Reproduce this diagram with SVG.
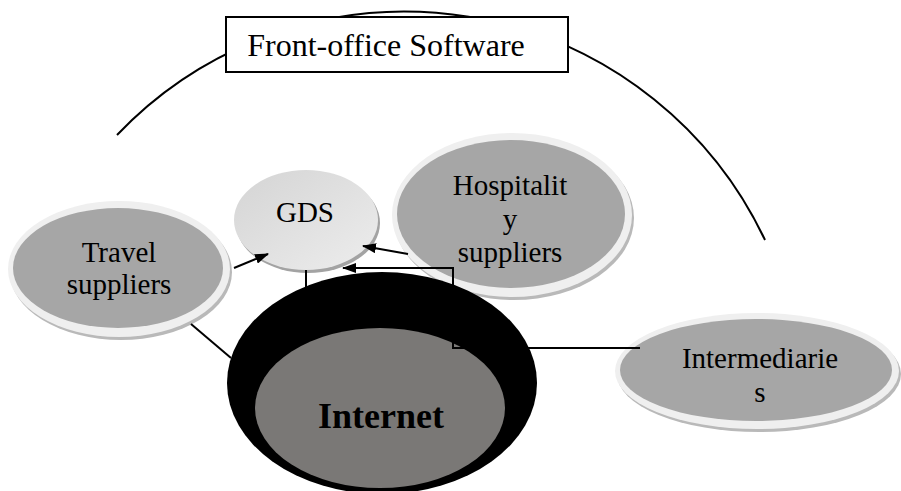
<svg xmlns="http://www.w3.org/2000/svg" width="901" height="491" viewBox="0 0 901 491">
  <style>
    .lbl { font-family: "Liberation Serif", "Times New Roman", serif; font-size: 29px; fill: #000; text-anchor: middle; }
    .title { font-family: "Liberation Serif", "Times New Roman", serif; font-size: 32px; fill: #000; text-anchor: middle; }
    .big { font-family: "Liberation Serif", "Times New Roman", serif; font-size: 36px; font-weight: bold; fill: #000; text-anchor: middle; }
    .rim { fill: #efefef; }
    .shadow { fill: #b9b9b9; }
    .fill { fill: #a6a6a6; }
    .conn { stroke: #000; stroke-width: 2; fill: none; }
  </style>
  <defs>
    <marker id="arrow" viewBox="0 0 14 10" refX="13" refY="5" markerWidth="14" markerHeight="10" markerUnits="userSpaceOnUse" orient="auto">
      <path d="M0,0 L14,5 L0,10 Z" fill="#000"/>
    </marker>
    <linearGradient id="gdsGrad" x1="0" y1="0" x2="1" y2="1">
      <stop offset="0" stop-color="#d4d4d4"/>
      <stop offset="1" stop-color="#ededed"/>
    </linearGradient>
  </defs>
  <rect width="901" height="491" fill="#ffffff"/>

  <g id="front-office">
    <path d="M117,135 A398,398 0 0 1 765,240" stroke="#000" stroke-width="2" fill="none"/>
    <rect x="226" y="17" width="342" height="55" fill="#ffffff" stroke="#000" stroke-width="2"/>
    <text class="title" x="386" y="56">Front-office Software</text>
  </g>

  <g id="travel-suppliers">
    <ellipse class="shadow" cx="121" cy="272" rx="111" ry="68"/>
    <ellipse class="rim" cx="119" cy="269" rx="111" ry="68"/>
    <ellipse class="fill" cx="118" cy="268" rx="105" ry="60"/>
    <text class="lbl" x="119" y="262">Travel</text>
    <text class="lbl" x="119" y="294">suppliers</text>
  </g>

  <g id="gds">
    <ellipse cx="308" cy="223" rx="72" ry="50" fill="#a3a3a3"/>
    <ellipse cx="306" cy="220" rx="72" ry="50" fill="url(#gdsGrad)"/>
    <text class="lbl" x="305" y="222">GDS</text>
  </g>

  <g id="hospitality-suppliers">
    <ellipse class="shadow" cx="514" cy="218" rx="120" ry="82"/>
    <ellipse class="rim" cx="512" cy="215" rx="120" ry="82"/>
    <ellipse class="fill" cx="511" cy="214" rx="114" ry="74"/>
    <text class="lbl" x="510" y="195">Hospitalit</text>
    <text class="lbl" x="510" y="229">y</text>
    <text class="lbl" x="510" y="262">suppliers</text>
  </g>

  <g id="intermediaries">
    <ellipse class="shadow" cx="759" cy="374" rx="142" ry="58"/>
    <ellipse class="rim" cx="757" cy="371" rx="142" ry="58"/>
    <ellipse class="fill" cx="756" cy="370" rx="136" ry="51"/>
    <text class="lbl" x="760" y="368">Intermediarie</text>
    <text class="lbl" x="760" y="402">s</text>
  </g>

  <g id="internet">
    <ellipse cx="382" cy="383" rx="155" ry="111" fill="#000"/>
    <ellipse cx="380" cy="408" rx="125" ry="80" fill="#7a7876"/>
    <text class="big" x="381" y="428">Internet</text>
  </g>

  <g id="connectors">
    <line class="conn" x1="234" y1="268" x2="268" y2="254" marker-end="url(#arrow)"/>
    <line class="conn" x1="408" y1="254" x2="363" y2="246" marker-end="url(#arrow)"/>
    <polyline class="conn" points="640,348 453,348 453,268 343,268" marker-end="url(#arrow)"/>
    <line class="conn" x1="306" y1="270" x2="306" y2="292"/>
    <line class="conn" x1="191" y1="324" x2="231" y2="358"/>
  </g>
</svg>
